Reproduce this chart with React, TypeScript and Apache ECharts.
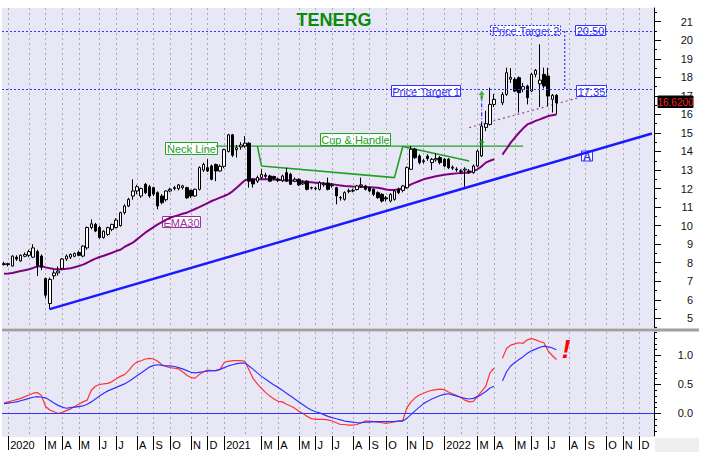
import React, { useEffect, useRef } from "react";
import * as echarts from "echarts";

// ---------- axis domain ----------
const WEEK_COUNT = 157;
const FIRST_WEEK = Date.UTC(2019, 11, 27);
const weeks: string[] = Array.from({ length: WEEK_COUNT }, (_, i) =>
  new Date(FIRST_WEEK + i * 7 * 86400000).toISOString().slice(0, 10)
);
const monthLetters = ["J", "F", "M", "A", "M", "J", "J", "A", "S", "O", "N", "D"];

const priceTicks = [5, 6, 7, 8, 9, 10, 11, 12, 13, 14, 15, 16, 17, 18, 19, 20, 21];
const priceMinorTicks = [4.5, 5.5, 6.5, 7.5, 8.5, 9.5, 10.5, 11.5, 12.5, 13.5, 14.5, 15.5, 16.5, 17.5, 18.5, 19.5, 20.5, 21.5];
const oscTicks = [0, 0.5, 1];
const oscMinorTicks = [-0.3, -0.2, -0.1, 0.1, 0.2, 0.3, 0.4, 0.6, 0.7, 0.8, 0.9, 1.1, 1.2, 1.3, 1.4];

// ---------- weekly candles: [open, close, low, high] ----------
const ohlc: ([number, number, number, number] | null)[] = [
  [7.95, 7.9, 7.85, 8.05], [7.9, 7.95, 7.8, 8.0], [7.82, 8.36, 7.8, 8.4], [8.3, 8.2, 8.1, 8.4], [8.1, 8.4, 8.05, 8.45],
  [8.35, 8.45, 8.3, 8.55], [8.4, 8.6, 8.3, 8.7], [8.3, 8.8, 8.25, 9.0], [8.6, 7.85, 7.29, 8.7], [8.36, 7.75, 7.6, 8.45],
  [7.15, 6.25, 6.1, 7.2], [5.8, 7.1, 5.49, 7.2], [7.3, 7.45, 7.1, 7.6], [7.45, 7.55, 7.3, 7.8], [7.7, 8.2, 7.6, 8.25],
  [8.2, 8.36, 8.1, 8.45], [8.3, 8.45, 8.2, 8.5], [8.35, 8.5, 8.3, 8.55], [8.55, 8.4, 8.35, 8.65], [8.36, 8.9, 8.3, 8.95],
  [8.8, 9.9, 8.7, 9.95], [9.9, 10.1, 9.8, 10.34], [10.07, 9.71, 9.65, 10.15], [9.9, 9.36, 9.3, 10.0], [9.36, 9.7, 9.3, 9.75],
  [9.53, 9.89, 9.45, 9.95], [9.8, 10.07, 9.7, 10.1], [9.9, 10.3, 9.85, 10.4], [10.0, 10.7, 9.95, 10.75], [10.7, 11.06, 10.6, 11.15],
  [11.06, 11.42, 11.0, 11.5], [11.6, 11.87, 11.4, 12.5], [11.87, 12.1, 11.7, 12.2], [11.6, 12.0, 11.5, 12.05], [12.23, 11.78, 11.7, 12.3],
  [12.1, 11.6, 11.5, 12.2], [12.05, 11.7, 11.6, 12.1], [11.78, 11.06, 10.88, 11.85], [11.6, 11.24, 11.15, 11.7], [11.4, 11.87, 11.3, 11.9],
  [11.87, 11.96, 11.8, 12.05], [12.0, 12.05, 11.9, 12.15], [12.0, 12.2, 11.9, 12.25], [12.05, 12.15, 11.95, 12.2], [12.05, 11.5, 11.45, 12.1],
  [11.9, 11.6, 11.5, 11.95], [11.6, 11.96, 11.55, 12.0], [11.96, 13.13, 11.9, 13.2], [13.0, 13.3, 12.9, 13.4], [13.13, 12.95, 12.9, 13.58],
  [13.22, 12.5, 12.45, 13.3], [13.3, 12.95, 12.4, 13.35], [12.95, 13.2, 12.9, 13.3], [13.2, 14.1, 13.1, 14.15], [14.0, 14.9, 13.95, 14.95],
  [14.9, 13.8, 13.7, 14.95], [14.1, 14.2, 13.67, 14.35], [14.25, 14.35, 14.1, 14.5], [14.3, 14.45, 14.2, 14.83], [14.45, 12.4, 12.05, 14.5],
  [12.5, 12.25, 12.05, 12.55], [12.4, 12.6, 12.3, 12.7], [12.6, 12.77, 12.5, 13.04], [12.72, 12.66, 12.55, 12.85], [12.68, 12.4, 12.35, 12.75],
  [12.65, 12.55, 12.45, 12.7], [12.5, 12.45, 12.35, 12.6], [12.42, 12.68, 12.35, 12.75], [12.86, 12.4, 12.35, 13.13], [12.77, 12.23, 12.2, 12.85],
  [12.4, 12.5, 12.35, 12.6], [12.5, 12.2, 12.14, 12.55], [12.25, 12.32, 12.2, 12.45], [12.4, 11.96, 11.9, 12.45], [12.05, 12.03, 11.95, 12.1],
  [12.0, 12.02, 11.9, 12.1], [11.96, 12.32, 11.9, 12.4], [12.2, 12.25, 12.1, 12.35], [12.3, 11.96, 11.9, 12.59], [12.15, 12.2, 12.05, 12.3],
  [12.05, 11.6, 11.15, 12.1], [11.5, 11.52, 11.35, 11.6], [11.42, 11.78, 11.35, 11.85], [11.85, 11.88, 11.75, 12.0], [11.87, 11.9, 11.8, 12.0],
  [11.95, 12.14, 11.9, 12.2], [12.14, 12.2, 12.05, 12.59], [12.14, 11.96, 11.9, 12.2], [12.05, 11.87, 11.8, 12.1], [11.96, 11.69, 11.6, 12.0],
  [11.78, 11.51, 11.45, 11.85], [11.69, 11.33, 11.25, 11.75], [11.5, 11.45, 11.3, 11.6], [11.33, 11.69, 11.25, 11.75], [11.42, 11.87, 11.35, 11.95],
  [11.96, 11.78, 11.7, 12.05], [11.9, 12.14, 11.8, 12.2], [12.05, 13.13, 12.0, 13.2], [13.04, 14.12, 13.0, 14.3], [14.12, 13.67, 13.6, 14.2],
  [13.76, 13.4, 13.3, 13.85], [13.45, 13.5, 13.35, 13.6], [13.75, 13.62, 13.5, 13.85], [13.4, 13.58, 13.0, 13.65], [13.55, 13.62, 13.45, 13.9],
  [13.67, 13.4, 13.3, 13.75], [13.58, 13.22, 13.15, 13.65], [13.58, 13.13, 13.05, 13.65], [13.1, 13.15, 13.0, 13.25], [13.05, 13.02, 12.9, 13.15],
  [12.95, 12.93, 12.8, 13.05], [13.0, 13.05, 12.1, 13.15], [12.95, 12.9, 12.8, 13.05], [12.86, 13.22, 12.8, 13.3], [13.22, 14.02, 13.15, 14.1],
  [13.76, 15.37, 13.7, 15.55], [15.3, 15.5, 15.1, 16.2], [15.46, 16.54, 15.4, 17.44], [16.54, 16.81, 16.4, 17.1], null,
  [16.63, 17.08, 16.5, 17.2], [17.08, 18.25, 17.0, 18.52], [17.9, 18.0, 17.7, 18.5], [17.89, 17.26, 17.2, 18.0], [17.98, 17.17, 16.1, 18.05],
  [17.35, 17.5, 17.2, 17.7], [17.53, 16.9, 16.54, 17.6], [17.26, 18.16, 17.2, 18.25], [18.16, 18.38, 18.0, 18.45], [17.65, 17.85, 16.4, 19.78],
  [18.16, 17.53, 17.4, 18.52], [18.07, 16.99, 16.45, 18.52], [16.81, 17.03, 16.1, 17.1], [17.03, 16.62, 16.0, 17.1],
];

const ema30: (number | null)[] = [
  7.4, 7.42, 7.45, 7.5, 7.55, 7.6, 7.65, 7.72, 7.8, 7.82,
  7.75, 7.7, 7.66, 7.65, 7.65, 7.67, 7.7, 7.76, 7.82, 7.9,
  8.0, 8.12, 8.22, 8.31, 8.38, 8.46, 8.54, 8.63, 8.7, 8.85,
  8.97, 9.08, 9.26, 9.44, 9.62, 9.77, 9.92, 10.07, 10.19, 10.31,
  10.43, 10.5, 10.57, 10.64, 10.7, 10.8, 10.9, 11.0, 11.11, 11.22,
  11.33, 11.42, 11.51, 11.6, 11.7, 11.85, 12.05, 12.25, 12.45, 12.5,
  12.5, 12.5, 12.5, 12.5, 12.5, 12.49, 12.48, 12.46, 12.45, 12.43,
  12.42, 12.4, 12.38, 12.36, 12.34, 12.32, 12.3, 12.28, 12.25, 12.23,
  12.2, 12.17, 12.14, 12.13, 12.11, 12.1, 12.09, 12.08, 12.07, 12.06,
  12.05, 12.0, 11.95, 11.92, 11.93, 11.96, 12.0, 12.1, 12.23, 12.32,
  12.41, 12.5, 12.56, 12.61, 12.66, 12.71, 12.74, 12.77, 12.8, 12.82,
  12.84, 12.85, 12.86, 12.94, 13.04, 13.2, 13.4, 13.5, 13.58, null,
  13.83, 14.15, 14.48, 14.75, 15.01, 15.25, 15.46, 15.55, 15.65, 15.73,
  15.82, 15.91, 15.96, 16.0,
];

const oscFast: (number | null)[] = [
  0.18, 0.2, 0.22, 0.24, 0.26, 0.29, 0.32, 0.35, 0.36, 0.31,
  0.12, 0.06, 0.03, 0.0, 0.02, 0.05, 0.08, 0.12, 0.16, 0.2,
  0.23, 0.4, 0.47, 0.5, 0.51, 0.52, 0.55, 0.6, 0.64, 0.67,
  0.74, 0.83, 0.89, 0.91, 0.94, 0.95, 0.94, 0.9, 0.84, 0.81,
  0.79, 0.78, 0.77, 0.72, 0.66, 0.62, 0.61, 0.67, 0.72, 0.75,
  0.74, 0.74, 0.76, 0.88, 0.9, 0.91, 0.91, 0.91, 0.9, 0.75,
  0.6, 0.51, 0.43, 0.36, 0.3, 0.25, 0.21, 0.2, 0.16, 0.13,
  0.09, 0.04, 0.0, -0.05, -0.09, -0.1, -0.1, -0.1, -0.11, -0.13,
  -0.16, -0.19, -0.19, -0.2, -0.2, -0.19, -0.16, -0.13, -0.13, -0.14,
  -0.15, -0.16, -0.17, -0.16, -0.14, -0.13, -0.12, 0.1, 0.2, 0.27,
  0.32, 0.35, 0.38, 0.4, 0.41, 0.42, 0.41, 0.37, 0.34, 0.31,
  0.27, 0.23, 0.2, 0.21, 0.3, 0.38, 0.47, 0.7, 0.78, null,
  0.95, 1.12, 1.18, 1.2, 1.22, 1.21, 1.27, 1.29, 1.27, 1.24,
  1.22, 1.08, 1.0, 0.93,
];

const oscSlow: (number | null)[] = [
  0.17, 0.18, 0.19, 0.2, 0.22, 0.24, 0.26, 0.28, 0.29, 0.28,
  0.27, 0.23, 0.18, 0.14, 0.11, 0.09, 0.1, 0.11, 0.12, 0.13,
  0.16, 0.2, 0.25, 0.3, 0.35, 0.39, 0.42, 0.45, 0.48, 0.51,
  0.55, 0.6, 0.65, 0.7, 0.75, 0.8, 0.83, 0.84, 0.83, 0.82,
  0.82, 0.81, 0.79, 0.77, 0.74, 0.71, 0.7, 0.71, 0.72, 0.73,
  0.74, 0.74, 0.76, 0.79, 0.82, 0.84, 0.86, 0.87, 0.87, 0.82,
  0.76, 0.7, 0.64, 0.59, 0.54, 0.49, 0.45, 0.4, 0.35, 0.3,
  0.25, 0.2, 0.15, 0.1, 0.06, 0.03, 0.01, -0.02, -0.05, -0.07,
  -0.09, -0.11, -0.13, -0.14, -0.15, -0.16, -0.16, -0.15, -0.15, -0.14,
  -0.14, -0.14, -0.14, -0.14, -0.14, -0.13, -0.13, -0.08, -0.02, 0.05,
  0.11, 0.17, 0.21, 0.25, 0.28, 0.31, 0.33, 0.34, 0.32, 0.3,
  0.28, 0.26, 0.25, 0.26, 0.29, 0.33, 0.38, 0.44, 0.47, null,
  0.56, 0.72, 0.82, 0.88, 0.93, 0.98, 1.04, 1.08, 1.11, 1.14,
  1.16, 1.15, 1.13, 1.1,
];

// ---------- drawn studies (week index, price) ----------
const trendA: [number, number][] = [[11, 5.5], [156, 14.97]];
const neckLine: [number, number][] = [[51, 14.29], [125, 14.29]];
const cupHandle: [number, number][] = [[61, 14.29], [62, 13.22], [94, 12.59], [96, 14.27], [112, 13.49]];
const handleSupport: [number, number][] = [[112, 15.29], [138, 16.88]];
const targetLink: [number, number][] = [[135, 20.5], [135, 17.35]];
const projection: [number, number][] = [[115, 14.45], [115, 17.0]];
const upArrows: [number, number][] = [[115, 17.03], [115, 14.44]];
const priceTarget1 = 17.35;
const priceTarget2 = 20.5;
const lastPrice = 16.62;

const PRICE_MIN = 4.48;
const PRICE_MAX = 21.74;
const OSC_MIN = -0.388;
const OSC_MAX = 1.405;

const FONT = '"Liberation Sans", Arial, sans-serif';
const BG = "#e7e7f6";

const toXY = (pts: [number, number][]) => pts.map(([i, v]) => [weeks[i], v]);

const monthStart = weeks.map((d, i) => i > 0 && d.slice(0, 7) !== weeks[i - 1].slice(0, 7));
const labelled = weeks.map((d, i) => monthStart[i] && d.slice(5, 7) !== "02");

function box(x: number, y: number, w: number, h: number, text: string, color: string, extra: any = {}) {
  return {
    type: "group",
    z: 100,
    children: [
      {
        type: "rect",
        shape: { x, y, width: w, height: h },
        style: { fill: extra.fill ?? "#ffffff", stroke: color, lineWidth: 1, lineDash: extra.dash ?? null },
      },
      {
        type: "text",
        x: x + w / 2,
        y: y + h / 2 + 0.5,
        style: {
          text,
          fill: extra.textColor ?? color,
          fontSize: extra.fontSize ?? 11,
          fontWeight: extra.fontWeight ?? "normal",
          fontFamily: FONT,
          align: "center",
          verticalAlign: "middle",
        },
      },
    ],
  };
}

export default function App() {
  const ref = useRef<HTMLDivElement>(null);
  useEffect(() => {
    document.body.style.margin = "0";
    const chart = echarts.init(ref.current!, undefined, { renderer: "svg" });
    const blue = "#3333ff";
    const green = "#22a022";
    const splitLine = {
      show: true,
      alignWithLabel: true,
      interval: (i: number) => monthStart[i],
      lineStyle: { color: "#a9a9b4", type: [2, 3], width: 1 },
    };
    const option: any = {
      animation: false,
      backgroundColor: "#ffffff",
      grid: [
        { left: 2, right: 51, top: 8, height: 320, show: true, backgroundColor: BG, borderWidth: 0 },
        { left: 2, right: 51, top: 332, height: 104, show: true, backgroundColor: BG, borderWidth: 0 },
      ],
      xAxis: [
        {
          type: "category", gridIndex: 0, data: weeks, boundaryGap: true,
          axisLine: { show: false }, axisTick: { show: false }, axisLabel: { show: false },
          splitLine,
        },
        {
          type: "category", gridIndex: 1, data: weeks, boundaryGap: true, position: "bottom",
          axisLine: { show: true, onZero: false, lineStyle: { color: BG, width: 1 } },
          axisTick: {
            show: true, alignWithLabel: true, length: 14, inside: false,
            interval: (i: number) => labelled[i],
            lineStyle: { color: "#000", width: 1 },
          },
          axisLabel: {
            show: true,
            interval: (i: number) => labelled[i],
            formatter: (v: string) => (v.slice(5, 7) === "01" ? v.slice(0, 4) : monthLetters[+v.slice(5, 7) - 1]),
            align: "left",
            padding: [0, 0, 0, 2],
            margin: 3,
            fontSize: 11,
            fontFamily: FONT,
            color: "#000",
          },
          splitLine,
        },
      ],
      yAxis: [
        {
          type: "value", gridIndex: 0, position: "right", min: PRICE_MIN, max: PRICE_MAX,
          axisLine: { show: true, lineStyle: { color: "#000" } },
          axisTick: { show: true, customValues: priceTicks, length: 7, lineStyle: { color: "#000" } },
          axisLabel: { customValues: priceTicks, align: "right", margin: 39, fontSize: 11, fontFamily: FONT, color: "#111" },
          splitLine: { show: false },
        },
        {
          type: "value", gridIndex: 0, position: "right", min: PRICE_MIN, max: PRICE_MAX,
          axisLine: { show: false },
          axisTick: { show: true, customValues: priceMinorTicks, length: 3, lineStyle: { color: "#000" } },
          axisLabel: { show: false }, splitLine: { show: false },
        },
        {
          type: "value", gridIndex: 1, position: "right", min: OSC_MIN, max: OSC_MAX,
          axisLine: { show: true, lineStyle: { color: "#000" } },
          axisTick: { show: true, customValues: oscTicks, length: 7, lineStyle: { color: "#000" } },
          axisLabel: {
            customValues: oscTicks, align: "right", margin: 39, fontSize: 11, fontFamily: FONT, color: "#111",
            formatter: (v: number) => v.toFixed(1),
          },
          splitLine: { show: false },
        },
        {
          type: "value", gridIndex: 1, position: "right", min: OSC_MIN, max: OSC_MAX,
          axisLine: { show: false },
          axisTick: { show: true, customValues: oscMinorTicks, length: 3, lineStyle: { color: "#000" } },
          axisLabel: { show: false }, splitLine: { show: false },
        },
      ],
      series: [
        {
          type: "line", xAxisIndex: 0, yAxisIndex: 0, data: toXY(targetLink), symbol: "none", z: 2,
          lineStyle: { color: blue, width: 1.2, type: [2, 2] },
        },
        {
          type: "line", xAxisIndex: 0, yAxisIndex: 0, data: toXY(handleSupport), symbol: "none", z: 2,
          lineStyle: { color: "#a040a0", width: 1.2, type: [2, 3] },
        },
        {
          type: "line", xAxisIndex: 0, yAxisIndex: 0, data: toXY(neckLine), symbol: "none", z: 2,
          lineStyle: { color: green, width: 1.2 },
        },
        {
          type: "line", xAxisIndex: 0, yAxisIndex: 0, data: toXY(cupHandle), symbol: "none", z: 2,
          lineStyle: { color: green, width: 1.6 },
        },
        {
          type: "line", xAxisIndex: 0, yAxisIndex: 0, data: toXY(projection), symbol: "none", z: 2,
          lineStyle: { color: blue, width: 1.2, type: [4, 2, 1, 2] },
        },
        {
          type: "line", xAxisIndex: 0, yAxisIndex: 0, data: ema30, symbol: "none", z: 3,
          connectNulls: false,
          lineStyle: { color: "#800080", width: 2 },
          markLine: {
            silent: true, symbol: ["none", "none"], label: { show: false },
            lineStyle: { color: blue, width: 1.2, type: [2, 2] },
            data: [{ yAxis: priceTarget1 }, { yAxis: priceTarget2 }],
          },
        },
        {
          type: "candlestick", xAxisIndex: 0, yAxisIndex: 0, barWidth: 3, z: 4,
          data: ohlc.map((d) => (d ? d : "-")),
          itemStyle: { color: "#ffffff", color0: "#000000", borderColor: "#000000", borderColor0: "#000000", borderWidth: 1 },
        },
        {
          type: "line", xAxisIndex: 0, yAxisIndex: 0, data: toXY(trendA), symbol: "none", z: 5,
          lineStyle: { color: "#1a1aff", width: 2.5 },
        },
        {
          type: "scatter", xAxisIndex: 0, yAxisIndex: 0, data: toXY(upArrows), z: 6,
          symbol: "path://M4,0 L8,5 L5.5,5 L5.5,11 L2.5,11 L2.5,5 L0,5 Z",
          symbolSize: [6, 9],
          itemStyle: { color: "#1f9a1f" },
        },
        {
          type: "line", xAxisIndex: 1, yAxisIndex: 2, data: oscFast, symbol: "none", connectNulls: false,
          lineStyle: { color: "#ff3333", width: 1.2 },
          markLine: {
            silent: true, symbol: ["none", "none"], label: { show: false },
            lineStyle: { color: blue, width: 1.2, type: "solid" },
            data: [{ yAxis: 0 }],
          },
        },
        {
          type: "line", xAxisIndex: 1, yAxisIndex: 2, data: oscSlow, symbol: "none", connectNulls: false,
          lineStyle: { color: blue, width: 1.2 },
        },
      ],
      graphic: [
        { type: "rect", z: 90, shape: { x: 2, y: 328.5, width: 697, height: 3 }, style: { fill: "#a0a0a0" } },
        { type: "rect", z: 90, shape: { x: 655, y: 438, width: 44, height: 14 }, style: { fill: "#efefef" } },
        {
          type: "text", z: 100, x: 334, y: 20,
          style: { text: "TENERG", fill: "#0b8a0b", fontSize: 18, fontWeight: "bold", fontFamily: FONT, align: "center", verticalAlign: "middle" },
        },
        box(165.5, 142.5, 52, 12, "Neck Line", green),
        box(320.5, 133.5, 70, 12, "Cup & Handle", green),
        box(162.5, 216.5, 38, 11, "EMA30", "#993399"),
        box(391.5, 85.5, 69, 11, "Price Target 1", blue),
        box(490.5, 25.5, 70, 10, "Price Target 2", blue, { dash: [2, 1.5] }),
        box(576.5, 85.5, 30, 11, "17,35", blue),
        box(575.5, 25.5, 30, 10, "20,50", blue),
        box(581.5, 151, 11, 10, "A", blue, { fontWeight: "bold", fontSize: 12 }),
        box(658, 96, 35, 11.5, lastPrice.toFixed(4), "#000", { fill: "#000", textColor: "#ff2020", fontSize: 10 }),
        {
          type: "text", z: 100, x: 566, y: 349,
          style: { text: "!", fill: "#ff0000", fontSize: 26, fontWeight: "bold", fontStyle: "italic", fontFamily: FONT, align: "center", verticalAlign: "middle" },
        },
      ],
    };
    chart.setOption(option);
    return () => chart.dispose();
  }, []);
  return <div ref={ref} style={{ position: "fixed", left: 0, top: 0, width: 705, height: 464 }} />;
}
